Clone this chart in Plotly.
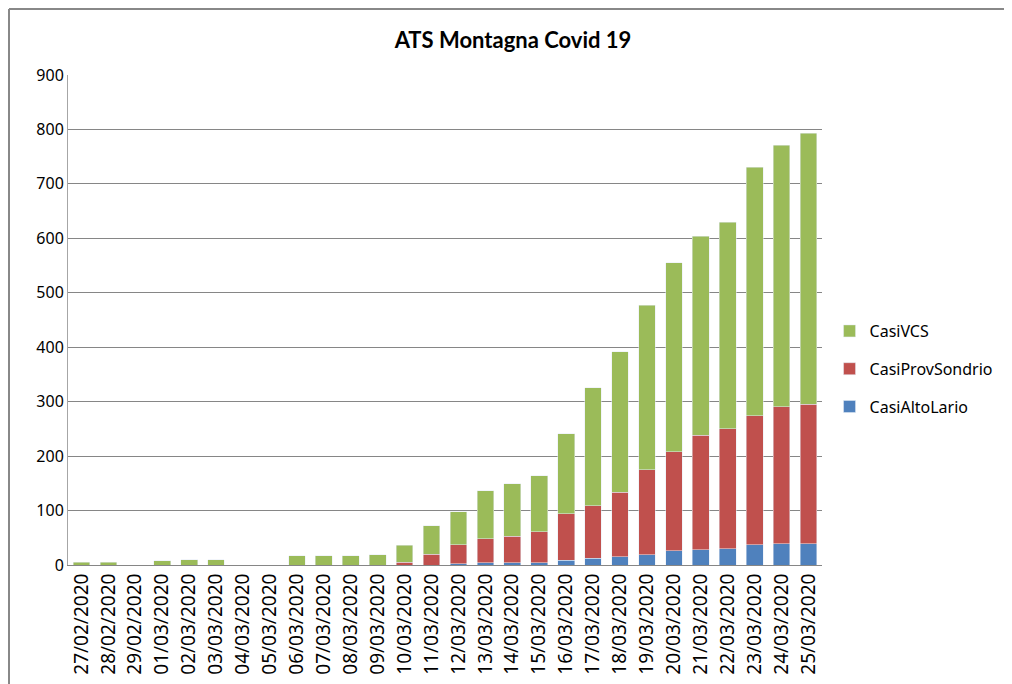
import plotly.graph_objects as go

giorni = ['27/02/2020', '28/02/2020', '29/02/2020', '01/03/2020', '02/03/2020', '03/03/2020',
          '04/03/2020', '05/03/2020', '06/03/2020', '07/03/2020', '08/03/2020', '09/03/2020',
          '10/03/2020', '11/03/2020', '12/03/2020', '13/03/2020', '14/03/2020', '15/03/2020',
          '16/03/2020', '17/03/2020', '18/03/2020', '19/03/2020', '20/03/2020', '21/03/2020',
          '22/03/2020', '23/03/2020', '24/03/2020', '25/03/2020']

casi_alto_lario = [0, 0, 0, 0, 0, 0, 0, 0, 0, 0, 0, 0, 0, 0,
                   2, 4, 4, 4, 9, 12, 15, 19, 26, 28, 30, 37, 39, 39]
casi_prov_sondrio = [0, 0, 0, 0, 0, 0, 0, 0, 0, 0, 0, 0, 5, 20,
                     35, 44, 49, 57, 85, 97, 119, 156, 182, 210, 220, 237, 252, 256]
casi_vcs = [5, 5, 0, 8, 10, 10, 0, 0, 17, 17, 17, 19, 31, 52,
            61, 88, 96, 103, 147, 217, 258, 302, 347, 366, 380, 457, 480, 498]

font_main = 'Noto Sans'

fig = go.Figure()
fig.add_trace(go.Bar(x=giorni, y=casi_alto_lario, name='CasiAltoLario',
                     marker_color='#4F81BD', legendgroup='c', legendrank=3))
fig.add_trace(go.Bar(x=giorni, y=casi_prov_sondrio, name='CasiProvSondrio',
                     marker_color='#C0504D', legendgroup='b', legendrank=2))
fig.add_trace(go.Bar(x=giorni, y=casi_vcs, name='CasiVCS',
                     marker_color='#9BBB59', legendgroup='a', legendrank=1))

# la pagina html aggiunge 8px di margine: l'area del grafico e' spostata di conseguenza
fig.update_layout(
    barmode='stack', bargap=0.38,
    width=1012, height=684,
    margin=dict(l=60, r=198, t=67, b=127),
    paper_bgcolor='white', plot_bgcolor='white',
    title=dict(text='<b>ATS Montagna Covid 19</b>', x=(513 - 8) / 1012, xanchor='center',
               y=1 - 32 / 684, yanchor='middle',
               font=dict(family='Lato', size=22, color='black')),
    font=dict(family=font_main, color='black'),
    legend=dict(x=1.01, xanchor='left', y=0.40, yanchor='middle',
                traceorder='grouped', tracegroupgap=14,
                font=dict(size=16, color='black')),
    showlegend=True,
)
fig.update_yaxes(range=[0, 900], dtick=100, showgrid=True, gridcolor='#868686',
                 gridwidth=1, showline=True, linecolor='#A6A6A6', ticks='',
                 tickfont=dict(size=16), zeroline=False, automargin=False)
fig.update_xaxes(tickangle=-90, showline=True, linecolor='#868686', ticks='',
                 tickfont=dict(size=19), type='category', automargin=False)

# bordo del grafico (sinistra e sopra)
bx = (1 - 60) / 754
by = 1 + (67 - 1) / 490
fig.add_shape(type='line', xref='paper', yref='paper',
              x0=bx, x1=bx, y0=-0.3, y1=by, line=dict(color='#888888', width=2))
fig.add_shape(type='line', xref='paper', yref='paper',
              x0=bx, x1=1.3, y0=by, y1=by, line=dict(color='#888888', width=2))

fig.write_html("out.html")
